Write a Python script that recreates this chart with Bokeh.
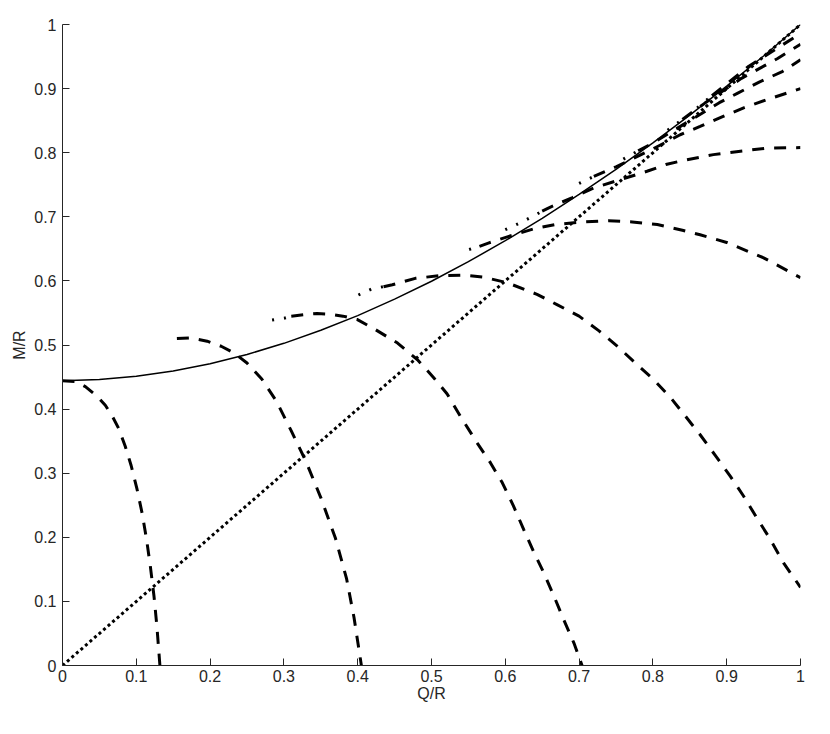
from bokeh.plotting import figure
from bokeh.models import Range1d, FixedTicker
from bokeh.embed import file_html
from bokeh.resources import INLINE

# ---- data ----
solid_x = [0.0, 0.05, 0.1, 0.15, 0.2, 0.25, 0.3, 0.35, 0.4, 0.45, 0.5, 0.55, 0.6,
           0.65, 0.7, 0.75, 0.8, 0.85, 0.9, 0.95, 1.0]
solid_y = [0.4444, 0.4461, 0.4511, 0.4593, 0.4707, 0.4852, 0.5026, 0.5229, 0.5459,
           0.5715, 0.5995, 0.6300, 0.6627, 0.6977, 0.7348, 0.7740, 0.8153, 0.8586,
           0.9038, 0.9509, 1.0]

dotted_x = [0.0, 1.0]
dotted_y = [0.0, 1.0]

# dashed curves (main part) and their dotted starts
c1_x = [0.0, 0.018, 0.031, 0.047, 0.058, 0.067, 0.076, 0.085, 0.093, 0.101, 0.108,
        0.114, 0.119, 0.124, 0.128, 0.132]
c1_y = [0.4444, 0.443, 0.435, 0.420, 0.406, 0.390, 0.370, 0.342, 0.312, 0.275, 0.237,
        0.196, 0.155, 0.108, 0.060, 0.0]

c2_x = [0.155, 0.173, 0.196, 0.215, 0.232, 0.25, 0.27, 0.29, 0.31, 0.33, 0.35, 0.37, 0.385, 0.395, 0.405]
c2_y = [0.510, 0.511, 0.506, 0.498, 0.488, 0.472, 0.447, 0.412, 0.366, 0.318, 0.262, 0.198, 0.135, 0.075, 0.0]

c3_sx = [0.284, 0.301, 0.31]
c3_sy = [0.539, 0.542, 0.545]
c3_x = [0.31, 0.332, 0.345, 0.363, 0.38, 0.399, 0.424, 0.454, 0.481, 0.503, 0.521,
        0.539, 0.562, 0.580, 0.596, 0.611, 0.625, 0.639, 0.652, 0.666, 0.679, 0.693, 0.704]
c3_y = [0.545, 0.548, 0.549, 0.548, 0.545, 0.540, 0.524, 0.503, 0.477, 0.449, 0.424,
        0.389, 0.347, 0.316, 0.285, 0.249, 0.212, 0.176, 0.145, 0.108, 0.072, 0.035, 0.0]

c4_sx = [0.401, 0.420, 0.435]
c4_sy = [0.578, 0.588, 0.591]
c4_x = [0.435, 0.447, 0.478, 0.51, 0.544, 0.57, 0.603, 0.643, 0.670, 0.700, 0.727, 0.752,
        0.776, 0.801, 0.824, 0.844, 0.864, 0.885, 0.905, 0.923, 0.941, 0.959, 0.977, 1.0]
c4_y = [0.591, 0.594, 0.604, 0.608, 0.609, 0.606, 0.597, 0.579, 0.563, 0.545, 0.522, 0.498,
        0.472, 0.446, 0.418, 0.389, 0.360, 0.327, 0.295, 0.264, 0.230, 0.197, 0.160, 0.122]

c5_sx = [0.551, 0.565]
c5_sy = [0.649, 0.654]
c5_x = [0.565, 0.577, 0.609, 0.641, 0.668, 0.706, 0.740, 0.772, 0.806, 0.840, 0.864, 0.90, 0.95, 1.0]
c5_y = [0.654, 0.659, 0.671, 0.682, 0.688, 0.692, 0.694, 0.692, 0.688, 0.679, 0.672, 0.660, 0.636, 0.605]

c6_sx = [0.600, 0.621, 0.641, 0.65]
c6_sy = [0.680, 0.691, 0.703, 0.709]
c6_x = [0.65, 0.659, 0.691, 0.72, 0.756, 0.792, 0.819, 0.846, 0.882, 0.916, 0.953, 1.0]
c6_y = [0.709, 0.714, 0.730, 0.745, 0.758, 0.771, 0.782, 0.789, 0.797, 0.802, 0.807, 0.808]

c7_sx = [0.70, 0.72]
c7_sy = [0.752, 0.763]
c7_x = [0.72, 0.75, 0.80, 0.837, 0.864, 0.896, 0.923, 0.955, 1.0]
c7_y = [0.763, 0.778, 0.806, 0.828, 0.841, 0.857, 0.870, 0.883, 0.900]

c8_sx = [0.76, 0.78]
c8_sy = [0.790, 0.803]
c8_x = [0.78, 0.80, 0.85, 0.89, 0.915, 0.944, 0.976, 1.0]
c8_y = [0.803, 0.815, 0.850, 0.878, 0.893, 0.910, 0.927, 0.945]

c9_sx = [0.82, 0.84]
c9_sy = [0.835, 0.852]
c9_x = [0.84, 0.87, 0.92, 0.969, 1.0]
c9_y = [0.852, 0.877, 0.916, 0.947, 0.969]

c10_sx = [0.86, 0.88]
c10_sy = [0.870, 0.889]
c10_x = [0.88, 0.93, 1.0]
c10_y = [0.889, 0.935, 0.986]

starts = [(c3_sx, c3_sy), (c4_sx, c4_sy), (c5_sx, c5_sy), (c6_sx, c6_sy),
          (c7_sx, c7_sy), (c8_sx, c8_sy), (c9_sx, c9_sy), (c10_sx, c10_sy)]
mains = [(c1_x, c1_y), (c2_x, c2_y), (c3_x, c3_y), (c4_x, c4_y), (c5_x, c5_y),
         (c6_x, c6_y), (c7_x, c7_y), (c8_x, c8_y), (c9_x, c9_y), (c10_x, c10_y)]

tick_vals = [0.0, 0.1, 0.2, 0.3, 0.4, 0.5, 0.6, 0.7, 0.8, 0.9, 1.0]
tick_labels = ["0", "0.1", "0.2", "0.3", "0.4", "0.5", "0.6", "0.7", "0.8", "0.9", "1"]

# ---- figure ----
p = figure(frame_width=738, frame_height=641,
           x_range=Range1d(0, 1), y_range=Range1d(0, 1),
           output_backend="svg", toolbar_location=None,
           min_border_left=62, min_border_top=24, min_border_right=14, min_border_bottom=48)
p.outline_line_color = None
p.xgrid.visible = False
p.ygrid.visible = False
p.background_fill_color = "white"
p.border_fill_color = "white"

axcol = "#262626"
for ax, lab in ((p.xaxis[0], "Q/R"), (p.yaxis[0], "M/R")):
    ax.ticker = FixedTicker(ticks=tick_vals)
    ax.major_label_overrides = {v: s for v, s in zip(tick_vals, tick_labels)}
    ax.major_tick_in = 7
    ax.major_tick_out = 0
    ax.minor_tick_line_color = None
    ax.axis_line_color = axcol
    ax.major_tick_line_color = axcol
    ax.major_label_text_color = axcol
    ax.axis_label = lab
    ax.axis_label_text_color = axcol
    ax.axis_label_text_font_style = "normal"
    ax.axis_label_text_font = "Liberation Sans"
    ax.major_label_text_font = "Liberation Sans"
    ax.axis_label_text_font_size = "16px"
    ax.major_label_text_font_size = "16px"
p.xaxis[0].major_label_standoff = 4
p.xaxis[0].axis_label_standoff = 0
p.yaxis[0].major_label_standoff = 6
p.yaxis[0].axis_label_standoff = 3

# solid
p.line(solid_x, solid_y, line_color="black", line_width=1.5)
# dotted
p.line(dotted_x, dotted_y, line_color="black", line_width=3, line_dash="3 3")
# dashed
for xs, ys in mains:
    p.line(xs, ys, line_color="black", line_width=3, line_dash="12 10")
for xs, ys in starts:
    p.line(xs, ys, line_color="black", line_width=3, line_dash="2 10")

open("out.html", "w").write(file_html(p, INLINE))
